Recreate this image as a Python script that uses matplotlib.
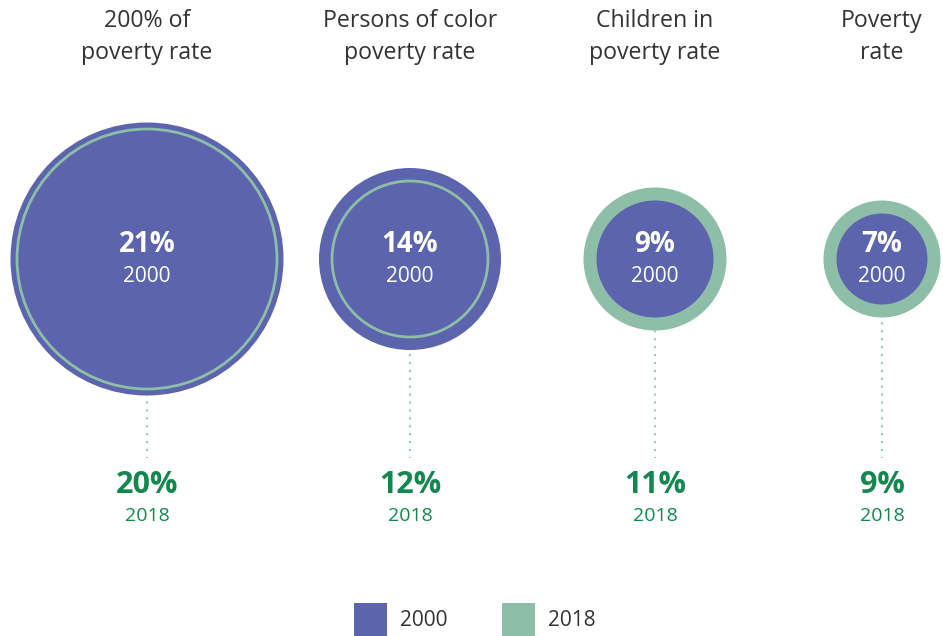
"""Poverty rates in 2000 vs 2018 drawn as nested circles."""

import matplotlib.pyplot as plt
from matplotlib.patches import Circle, Rectangle

# data
categories = ["200% of\npoverty rate", "Persons of color\npoverty rate",
              "Children in\npoverty rate", "Poverty\nrate"]
rate_2000 = [21, 14, 9, 7]
rate_2018 = [20, 12, 11, 9]
years = ["2000", "2018"]

# layout (pixels)
W, H = 943, 636
centers_x = [147, 410, 655, 882]
cy = 259
px_per_pct = 6.5
line_end = 458

purple = "#5b64ad"
green = "#8ebea7"
dark_green = "#13874f"
dot_color = "#9cc8b5"
text_color = "#333333"
font = "Open Sans"

fig = plt.figure(figsize=(W / 100, H / 100), dpi=100)
ax = fig.add_axes([0, 0, 1, 1])
ax.set_xlim(0, W)
ax.set_ylim(H, 0)
ax.set_aspect("equal")
ax.axis("off")

for x, cat, a, b in zip(centers_x, categories, rate_2000, rate_2018):
    ra, rb = a * px_per_pct, b * px_per_pct
    # dotted connector down to the 2018 value
    ax.plot([x, x], [cy, line_end], color=dot_color, lw=1.5,
            linestyle=(0, (1, 2.8)), zorder=1)
    if ra >= rb:
        ax.add_patch(Circle((x, cy), ra, color=purple, zorder=2, lw=0))
        ax.add_patch(Circle((x, cy), rb, fill=False, edgecolor=green,
                            lw=2.0, zorder=3))
    else:
        ax.add_patch(Circle((x, cy), rb, color=green, zorder=2, lw=0))
        ax.add_patch(Circle((x, cy), ra, color=purple, zorder=3, lw=0))

    ax.text(x, 37, cat, ha="center", va="center", fontsize=16.7,
            color=text_color, family=font, linespacing=1.4)
    ax.text(x, cy - 14, f"{a}%", ha="center", va="center", fontsize=20,
            color="white", family=font, fontweight="bold", zorder=5)
    ax.text(x, cy + 18, years[0], ha="center", va="center", fontsize=15,
            color="white", family=font, zorder=5)
    ax.text(x, 485, f"{b}%", ha="center", va="center", fontsize=22,
            color=dark_green, family=font, fontweight="bold")
    ax.text(x, 516, years[1], ha="center", va="center", fontsize=14,
            color=dark_green, family=font)

# legend
for lx, c, yr in zip([354, 502], [purple, green], years):
    ax.add_patch(Rectangle((lx, 603), 33, 33, color=c, lw=0))
    ax.text(lx + 46, 620, yr, ha="left", va="center", fontsize=15,
            color=text_color, family=font)

fig.savefig("out.png", dpi=100)
